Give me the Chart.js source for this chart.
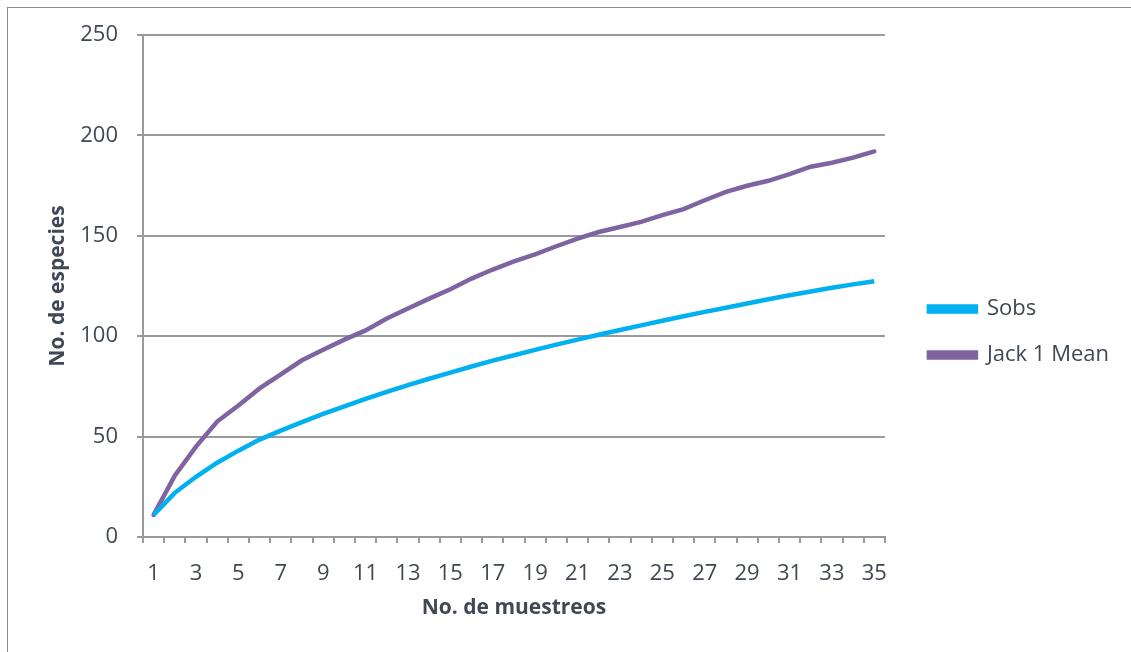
<!DOCTYPE html>
<html>
<head>
<meta charset="utf-8">
<script src="https://cdn.jsdelivr.net/npm/chart.js@4"></script>
<style>
  html, body { margin: 0; padding: 0; background: #fff; }
  #wrap { position: relative; width: 1131px; height: 652px; }
  #frame { position: absolute; left: 7px; top: 7px; width: 1300px; height: 800px; border: 1px solid #8c8c8c; pointer-events: none; }
</style>
</head>
<body>
<div id="wrap">
  <canvas id="grafica" width="1131" height="652"></canvas>
  <div id="frame"></div>
</div>
<script>
// muestreos 1..35
var muestreos = [];
for (var i = 1; i <= 35; i++) muestreos.push(String(i));

var sobs = [11, 22, 30, 37, 43, 48.5, 53, 57.2, 61.3, 65.1, 68.8, 72.3, 75.6, 78.8, 81.9, 84.9,
            87.8, 90.5, 93.2, 95.8, 98.3, 100.7, 103.1, 105.4, 107.7, 109.9, 112.1, 114.2, 116.3,
            118.4, 120.4, 122.3, 124.1, 125.8, 127.4];

var jack1 = [11, 30.5, 45, 57.5, 65.5, 74, 81, 88, 93.3, 98.3, 102.9, 108.8, 113.8, 118.7, 123.4,
             128.7, 133.2, 137.3, 140.8, 144.8, 148.6, 151.9, 154.4, 156.9, 160.3, 163.3, 167.7,
             171.9, 174.9, 177.4, 180.7, 184.4, 186.4, 188.9, 192];

var yTicks = [0, 50, 100, 150, 200, 250];

var textColor = '#404854';
var gridColor = '#9a9a9a';
Chart.defaults.font.family = "'Open Sans', sans-serif";
Chart.defaults.color = textColor;

// la leyenda queda un poco separada del area de la grafica
var legendShiftX = 20;
var legendShiftY = 2;
var moverLeyenda = {
    id: 'moverLeyenda',
    afterLayout: function (chart) {
        chart.legend.left += legendShiftX;
        chart.legend.right += legendShiftX;
        chart.legend.top += legendShiftY;
        chart.legend.bottom += legendShiftY;
    }
};

var ctx = document.getElementById('grafica');
var chart = new Chart(ctx, {
    type: 'line',
    data: {
        labels: muestreos,
        datasets: [
            {
                label: 'Sobs',
                data: sobs,
                borderColor: '#00b0f0',
                backgroundColor: '#00b0f0',
                borderWidth: 4.5,
                pointRadius: 0,
                tension: 0
            },
            {
                label: 'Jack 1 Mean',
                data: jack1,
                borderColor: '#8064a2',
                backgroundColor: '#8064a2',
                borderWidth: 4.5,
                borderCapStyle: 'round',
                pointRadius: 0,
                tension: 0
            }
        ]
    },
    plugins: [moverLeyenda],
    options: {
        responsive: false,
        animation: false,
        layout: { padding: { left: 40, top: 35, right: 32, bottom: 27 } },
        plugins: {
            tooltip: { enabled: false },
            legend: {
                position: 'right',
                labels: {
                    boxWidth: 47,
                    boxHeight: 5,
                    padding: 24,
                    font: { size: 22 },
                    color: textColor
                }
            }
        },
        scales: {
            x: {
                offset: true,
                afterFit: function (scale) { scale.height = 88; },
                grid: {
                    offset: true,
                    drawOnChartArea: false,
                    drawTicks: true,
                    tickLength: 6,
                    color: gridColor,
                    lineWidth: 2
                },
                border: { color: gridColor, width: 2 },
                ticks: {
                    autoSkip: false,
                    maxRotation: 0,
                    padding: 18,
                    font: { size: 22 },
                    color: textColor,
                    callback: function (v, idx) { return idx % 2 === 0 ? this.getLabelForValue(v) : ''; }
                },
                title: {
                    display: true,
                    text: 'No. de muestreos',
                    font: { size: 21, weight: 'bold' },
                    color: textColor,
                    padding: { top: 2, bottom: 4 }
                }
            },
            y: {
                min: 0,
                max: 250,
                afterFit: function (scale) { scale.width = 103; },
                afterBuildTicks: function (axis) {
                    axis.ticks = yTicks.map(function (v) { return { value: v }; });
                },
                grid: {
                    color: gridColor,
                    lineWidth: 2,
                    tickLength: 6
                },
                border: { color: gridColor, width: 2 },
                ticks: {
                    padding: 19,
                    font: { size: 22 },
                    color: textColor
                },
                title: {
                    display: true,
                    text: 'No. de especies',
                    font: { size: 21, weight: 'bold' },
                    color: textColor,
                    padding: { top: 5, bottom: 5 }
                }
            }
        }
    }
});
</script>
</body>
</html>
